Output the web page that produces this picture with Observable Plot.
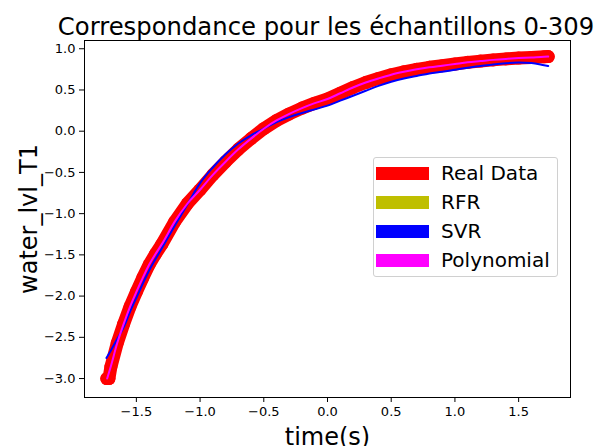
<!DOCTYPE html>
<html><head><meta charset="utf-8">
<script src="https://cdn.jsdelivr.net/npm/d3@7"></script>
<script src="https://cdn.jsdelivr.net/npm/@observablehq/plot@0.6"></script>
<style>
body{margin:0;background:#fff;font-family:"DejaVu Sans",sans-serif;}
#wrap{position:relative;width:599px;height:446px;overflow:hidden;}
#title{position:absolute;left:326px;top:15px;transform:translateX(-50%);font-size:24.3px;line-height:24px;white-space:nowrap;color:#000;}
#legend{position:absolute;left:373px;top:157px;width:185px;height:120px;border:1px solid #d0d0d0;border-radius:3px;background:rgba(255,255,255,0.8);box-sizing:border-box;}
.item{position:absolute;left:2px;height:13px;}
.patch{position:absolute;left:0;top:0;width:53px;height:13px;}
.lab{position:absolute;left:65px;top:-6px;font-size:20px;line-height:24px;white-space:nowrap;color:#000;}
svg{position:absolute;left:0;top:0;}
</style></head><body>
<div id="wrap"><div id="title">Correspondance pour les échantillons 0-309</div><div id="legend"></div></div>
<script>
const xTicks = [-1.5,-1.0,-0.5,0.0,0.5,1.0,1.5];
const yTicks = [-3.0,-2.5,-2.0,-1.5,-1.0,-0.5,0.0,0.5,1.0];
const seriesNames = ["Real Data","RFR","SVR","Polynomial"];
const seriesColors = ["#ff0000","#bfbf00","#0000ff","#ff00ff"];

const realX = [-1.732,-1.715,-1.70,-1.65,-1.60,-1.55,-1.50,-1.45,-1.40,-1.35,-1.30,-1.20,-1.10,-1.00,-0.90,-0.80,-0.70,-0.60,-0.50,-0.40,-0.30,-0.20,-0.10,0.00,0.10,0.20,0.30,0.40,0.50,0.60,0.70,0.80,0.90,1.00,1.10,1.20,1.30,1.40,1.50,1.60,1.70,1.732];
const realY = [-3.00,-3.00,-2.86,-2.57,-2.34,-2.13,-1.95,-1.78,-1.62,-1.49,-1.37,-1.10,-0.88,-0.71,-0.53,-0.37,-0.22,-0.09,0.03,0.13,0.21,0.28,0.34,0.39,0.46,0.53,0.59,0.64,0.685,0.72,0.75,0.775,0.795,0.815,0.835,0.85,0.865,0.877,0.887,0.895,0.902,0.905];

const rfrX = [-1.732,-1.70,-1.65,-1.60,-1.55,-1.50,-1.45,-1.40,-1.35,-1.30,-1.20,-1.10,-1.00,-0.90,-0.80,-0.70,-0.60,-0.50,-0.40,-0.30,-0.20,-0.10,0.00,0.10,0.20,0.30,0.40,0.50,0.60,0.70,0.80,0.90,1.00,1.10,1.20,1.30,1.40,1.50,1.60,1.70,1.732];
const rfrY = [-3.00,-2.86,-2.57,-2.34,-2.13,-1.95,-1.78,-1.62,-1.49,-1.37,-1.10,-0.88,-0.71,-0.53,-0.37,-0.22,-0.09,0.03,0.13,0.21,0.28,0.34,0.39,0.46,0.53,0.59,0.64,0.685,0.72,0.75,0.775,0.795,0.815,0.835,0.85,0.865,0.877,0.887,0.895,0.902,0.905];

const svrX = [-1.735,-1.70,-1.65,-1.60,-1.55,-1.50,-1.40,-1.30,-1.20,-1.10,-1.00,-0.90,-0.80,-0.70,-0.60,-0.50,-0.40,-0.30,-0.20,-0.10,0.00,0.10,0.20,0.30,0.40,0.50,0.60,0.70,0.80,0.90,1.00,1.10,1.20,1.30,1.40,1.50,1.60,1.70,1.732];
const svrY = [-2.75,-2.66,-2.52,-2.38,-2.19,-2.02,-1.69,-1.42,-1.15,-0.89,-0.63,-0.44,-0.28,-0.15,-0.05,0.03,0.11,0.17,0.22,0.265,0.31,0.37,0.43,0.49,0.55,0.60,0.64,0.67,0.70,0.72,0.745,0.77,0.79,0.81,0.825,0.832,0.828,0.80,0.79];

const polyX = [-1.729,-1.70,-1.65,-1.60,-1.55,-1.50,-1.45,-1.40,-1.35,-1.30,-1.20,-1.10,-1.00,-0.90,-0.80,-0.70,-0.60,-0.50,-0.40,-0.30,-0.20,-0.10,0.00,0.10,0.20,0.30,0.40,0.50,0.60,0.70,0.80,0.90,1.00,1.10,1.20,1.30,1.40,1.50,1.60,1.70,1.732];
const polyY = [-3.00,-2.85,-2.57,-2.34,-2.13,-1.95,-1.78,-1.62,-1.49,-1.37,-1.10,-0.88,-0.71,-0.53,-0.37,-0.22,-0.09,0.03,0.13,0.21,0.28,0.34,0.39,0.46,0.53,0.59,0.64,0.685,0.72,0.75,0.775,0.795,0.815,0.835,0.85,0.865,0.877,0.887,0.895,0.902,0.905];

const rows = (xs, ys) => xs.map((x, i) => ({x, y: ys[i]}));
const real = rows(realX, realY), rfr = rows(rfrX, rfrY), svr = rows(svrX, svrY), poly = rows(polyX, polyY);
const fmt = d3.format(".1f");

const chart = Plot.plot({
  width: 599, height: 446,
  marginTop: 40, marginRight: 29, marginBottom: 49, marginLeft: 84,
  style: {fontFamily: "DejaVu Sans", fontSize: "13px", background: "transparent", color: "#000"},
  x: {domain: [-1.907, 1.907]},
  y: {domain: [-3.23, 1.1]},
  marks: [
    Plot.axisX({ticks: xTicks, tickFormat: fmt, tickSize: 5, tickPadding: 4, label: null}),
    Plot.axisY({ticks: yTicks, tickFormat: fmt, tickSize: 5, tickPadding: 4, label: null}),
    Plot.line(rfr, {x: "x", y: "y", stroke: seriesColors[1], strokeWidth: 2}),
    Plot.line(real, {x: "x", y: "y", stroke: seriesColors[0], strokeWidth: 13, strokeLinecap: "round", strokeLinejoin: "round"}),
    Plot.dot(real, {x: "x", y: "y", r: 6.5, fill: seriesColors[0], stroke: null}),
    Plot.line(svr, {x: "x", y: "y", stroke: seriesColors[2], strokeWidth: 2, curve: "monotone-x"}),
    Plot.line(poly, {x: "x", y: "y", stroke: seriesColors[3], strokeWidth: 2, curve: "monotone-x"}),
    Plot.frame({stroke: "#000", strokeWidth: 1}),
    Plot.text(["time(s)"], {frameAnchor: "bottom", dy: 40, lineAnchor: "middle", textAnchor: "middle", fontSize: 24, fill: "#000"}),
    Plot.text(["water_lvl_T1"], {frameAnchor: "left", dx: -55, rotate: -90, lineAnchor: "middle", textAnchor: "middle", fontSize: 24, fill: "#000"})
  ]
});
document.getElementById("wrap").prepend(chart);

const legend = document.getElementById("legend");
const rowTops = [9, 38, 67, 96];
seriesNames.forEach((name, i) => {
  const it = document.createElement("div");
  it.className = "item";
  it.style.top = rowTops[i] + "px";
  it.innerHTML = `<div class="patch" style="background:${seriesColors[i]}"></div><div class="lab">${name}</div>`;
  legend.appendChild(it);
});
</script>
</body></html>
